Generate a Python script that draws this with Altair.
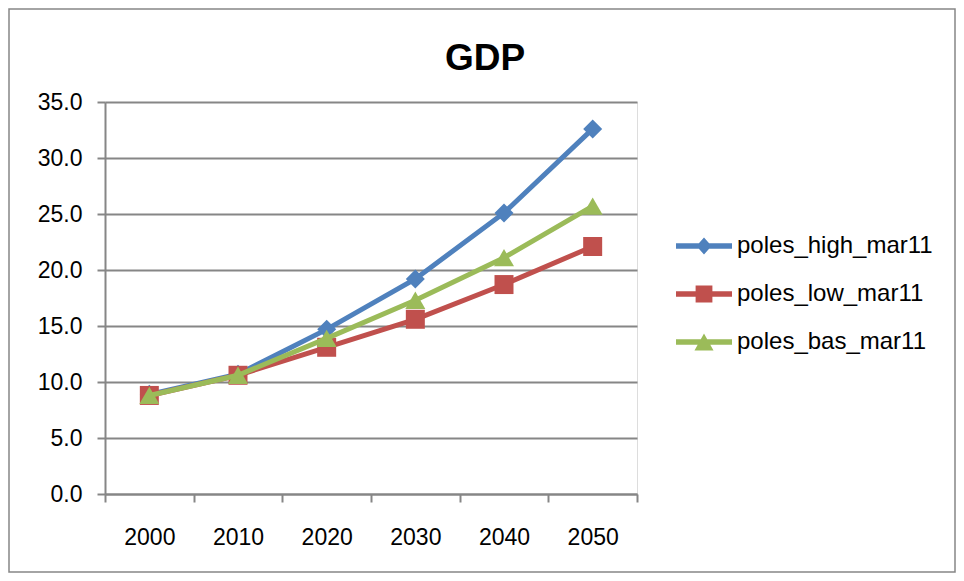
import altair as alt
import pandas as pd

# ---- data ----
years = ["2000", "2010", "2020", "2030", "2040", "2050"]
series_names = ["poles_high_mar11", "poles_low_mar11", "poles_bas_mar11"]
poles_high = [8.9, 10.7, 14.7, 19.2, 25.1, 32.6]
poles_low = [8.8, 10.6, 13.1, 15.6, 18.7, 22.1]
poles_bas = [8.8, 10.6, 13.9, 17.3, 21.1, 25.7]
y_ticks = [0, 5, 10, 15, 20, 25, 30, 35]
chart_title = "GDP"

# ---- styles ----
colors = ["#4F81BD", "#C0504D", "#9BBB59"]
plot_shapes = ["diamond", "square", "triangle-up"]
plot_sizes = [361, 361, 400]
legend_paths = [
    "M-1,-0.1H1V0.1H-1Z M0,-0.3L0.27,0L0,0.3L-0.27,0Z",
    "M-1,-0.1H1V0.1H-1Z M-0.3,-0.3H0.3V0.3H-0.3Z",
    "M-1,-0.1H1V0.1H-1Z M0,-0.3L0.34,0.3H-0.34Z",
]
FONT = "Liberation Sans"
GRID = "#868686"

rows = []
for name, vals in zip(series_names, [poles_high, poles_low, poles_bas]):
    for yr, v in zip(years, vals):
        rows.append({"year": yr, "value": v, "series": name})
df = pd.DataFrame(rows)

W, H = 532, 392
PAD = {"left": 97, "top": 94, "right": 319, "bottom": 79}

x_enc = alt.X(
    "year:O",
    sort=years,
    scale=alt.Scale(paddingInner=0, paddingOuter=0),
    axis=alt.Axis(
        title=None,
        labelAngle=0,
        tickBand="extent",
        grid=False,
        ticks=True,
        tickSize=8,
        tickWidth=2,
        tickColor=GRID,
        domainColor=GRID,
        domainWidth=2,
        labelFont=FONT,
        labelFontSize=23,
        labelColor="#000000",
        labelPadding=24,
    ),
)
y_enc = alt.Y(
    "value:Q",
    scale=alt.Scale(domain=[0, 35], nice=False),
    axis=alt.Axis(
        title=None,
        values=y_ticks,
        format=".1f",
        grid=True,
        gridColor=GRID,
        gridWidth=2,
        tickSize=8,
        tickWidth=2,
        tickColor=GRID,
        domainColor=GRID,
        domainWidth=2,
        labelFont=FONT,
        labelFontSize=23,
        labelColor="#000000",
        labelPadding=15,
    ),
)

one = pd.DataFrame({"label": [chart_title]})

frame = alt.Chart(one).mark_rect(
    filled=False, stroke=GRID, strokeWidth=1.5
).encode(
    x=alt.value(-PAD["left"] + 1),
    x2=alt.value(W + PAD["right"] - 1),
    y=alt.value(-PAD["top"] + 1),
    y2=alt.value(H + PAD["bottom"] - 1),
)

title = alt.Chart(one).mark_text(
    font=FONT, fontSize=37, fontWeight="bold", color="#000000",
    align="center", baseline="alphabetic",
).encode(text="label:N", x=alt.value(380), y=alt.value(-32))

layers = [frame, title]
for name, col, shp, sz in zip(series_names, colors, plot_shapes, plot_sizes):
    base = alt.Chart(df).transform_filter(alt.datum.series == name)
    line = base.mark_line(color=col, strokeWidth=5).encode(x=x_enc, y=y_enc)
    pts = base.mark_point(filled=True, shape=shp, size=sz, color=col, opacity=1,
                          strokeWidth=0).encode(x=x_enc, y=y_enc)
    layers += [line, pts]

leg = alt.Legend(
    title=None,
    orient="none",
    legendX=571,
    legendY=120,
    symbolSize=3136,
    symbolStrokeWidth=0,
    symbolOpacity=1,
    labelFont=FONT,
    labelFontSize=24,
    labelColor="#000000",
    labelOffset=5,
    clipHeight=48,
    rowPadding=0,
    padding=0,
    labelLimit=400,
)
legend_layer = alt.Chart(df).mark_point(filled=True, opacity=0).encode(
    x=x_enc,
    y=y_enc,
    color=alt.Color("series:N", scale=alt.Scale(domain=series_names, range=colors), legend=leg),
    shape=alt.Shape("series:N", scale=alt.Scale(domain=series_names, range=legend_paths), legend=leg),
)
layers.append(legend_layer)

chart = alt.layer(*layers).properties(
    width=W,
    height=H,
    padding=PAD,
    autosize=alt.AutoSizeParams(type="none"),
).configure_view(stroke=None).configure(background="white")

chart.save("out.html", embed_options={"renderer": "svg", "actions": False})
